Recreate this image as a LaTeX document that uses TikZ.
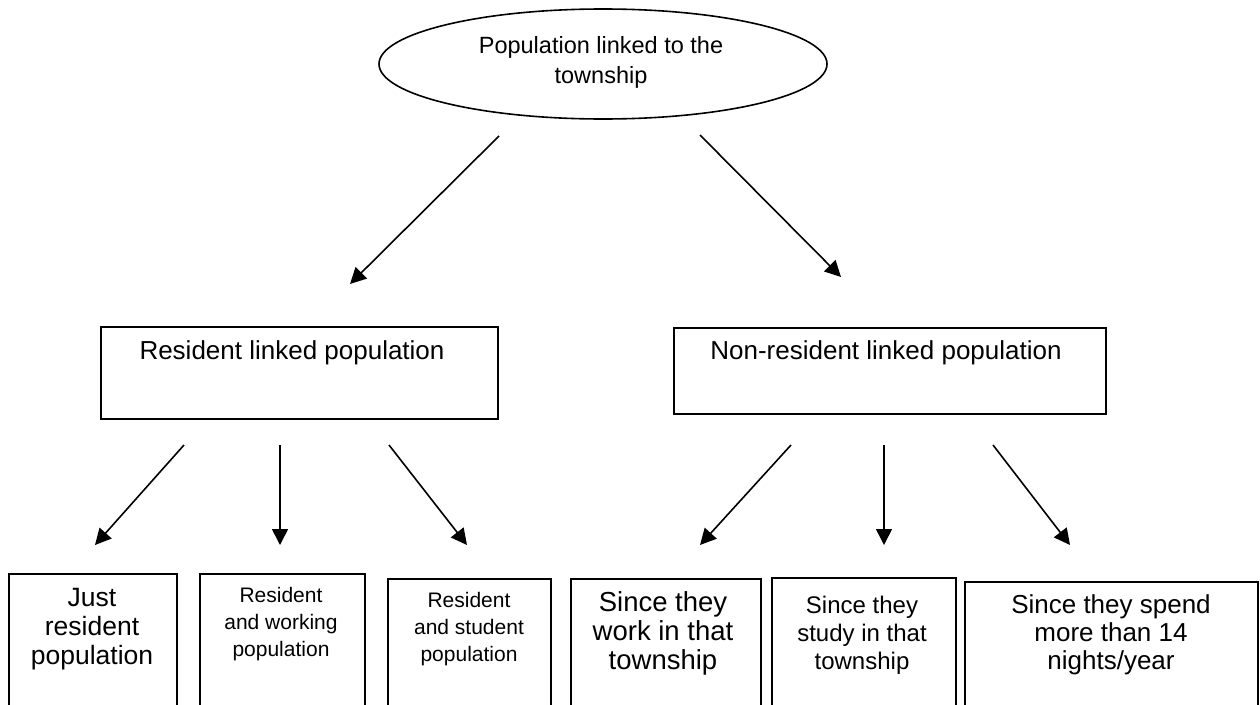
\documentclass[tikz,border=0pt]{standalone}
\usepackage{fontspec}
\setmainfont{Liberation Sans}
\usetikzlibrary{arrows.meta,shapes.geometric}
\begin{document}
\begin{tikzpicture}[x=1pt,y=-1pt,
  box/.style={draw, line width=1.6pt, rectangle, anchor=north west, inner sep=0pt},
  arr/.style={-{Triangle[length=16pt,width=16pt]}, line width=1.6pt},
  lbl/.style={align=center, inner sep=0pt}]
\useasboundingbox (0,0) rectangle (1260,704);
\clip (0,0) rectangle (1260,704);
\fill[white] (0,0) rectangle (1260,704);
% top ellipse
\node[draw, ellipse, line width=1.6pt, minimum width=448pt, minimum height=110pt, inner sep=0pt] (top) at (603,64) {};
\node[lbl, font=\fontsize{23.5}{30}\selectfont] (toptext) at (601,62) {Population linked to the\\township};
% middle boxes
\node[box, minimum width=397pt, minimum height=92pt] (res) at (100,326) {};
\node[lbl, font=\fontsize{26}{30}\selectfont] (restext) at (292,353) {Resident linked population};
\node[box, minimum width=432pt, minimum height=86pt] (non) at (673,327) {};
\node[lbl, font=\fontsize{26}{30}\selectfont] (nontext) at (886,353) {Non-resident linked population};
% bottom boxes
\node[box, minimum width=168pt, minimum height=150pt] (b1) at (8,573) {};
\node[box, minimum width=165pt, minimum height=150pt] (b2) at (199,573) {};
\node[box, minimum width=163pt, minimum height=150pt] (b3) at (387,578) {};
\node[box, minimum width=190pt, minimum height=150pt] (b4) at (570,578) {};
\node[box, minimum width=184pt, minimum height=150pt] (b5) at (771,577) {};
\node[box, minimum width=293pt, minimum height=150pt] (b6) at (964,581) {};
\node[lbl, font=\fontsize{26.5}{29}\selectfont] (t1) at (92,629) {Just\\resident\\population};
\node[lbl, font=\fontsize{21}{27}\selectfont] (t2) at (281,624) {Resident\\and working\\population};
\node[lbl, font=\fontsize{21}{27}\selectfont] (t3) at (469,629) {Resident\\and student\\population};
\node[lbl, font=\fontsize{27.5}{29}\selectfont] (t4) at (663,633) {Since they\\work in that\\township};
\node[lbl, font=\fontsize{24}{28}\selectfont] (t5) at (862,635) {Since they\\study in that\\township};
\node[lbl, font=\fontsize{26}{28}\selectfont] (t6) at (1111,635) {Since they spend\\more than 14\\nights/year};
% arrow end points
\coordinate (a1s) at (499,136); \coordinate (a1e) at (350,284);
\coordinate (a2s) at (700,135); \coordinate (a2e) at (841,277);
\coordinate (r1s) at (184,445); \coordinate (r1e) at (95,545);
\coordinate (r2s) at (280,445); \coordinate (r2e) at (280,545);
\coordinate (r3s) at (389,445); \coordinate (r3e) at (467,545);
\coordinate (n1s) at (791,445); \coordinate (n1e) at (700,545);
\coordinate (n2s) at (884,445); \coordinate (n2e) at (884,545);
\coordinate (n3s) at (993,445); \coordinate (n3e) at (1070,545);
\draw[arr] (a1s) -- (a1e);
\draw[arr] (a2s) -- (a2e);
\draw[arr] (r1s) -- (r1e);
\draw[arr] (r2s) -- (r2e);
\draw[arr] (r3s) -- (r3e);
\draw[arr] (n1s) -- (n1e);
\draw[arr] (n2s) -- (n2e);
\draw[arr] (n3s) -- (n3e);
\end{tikzpicture}
\end{document}
